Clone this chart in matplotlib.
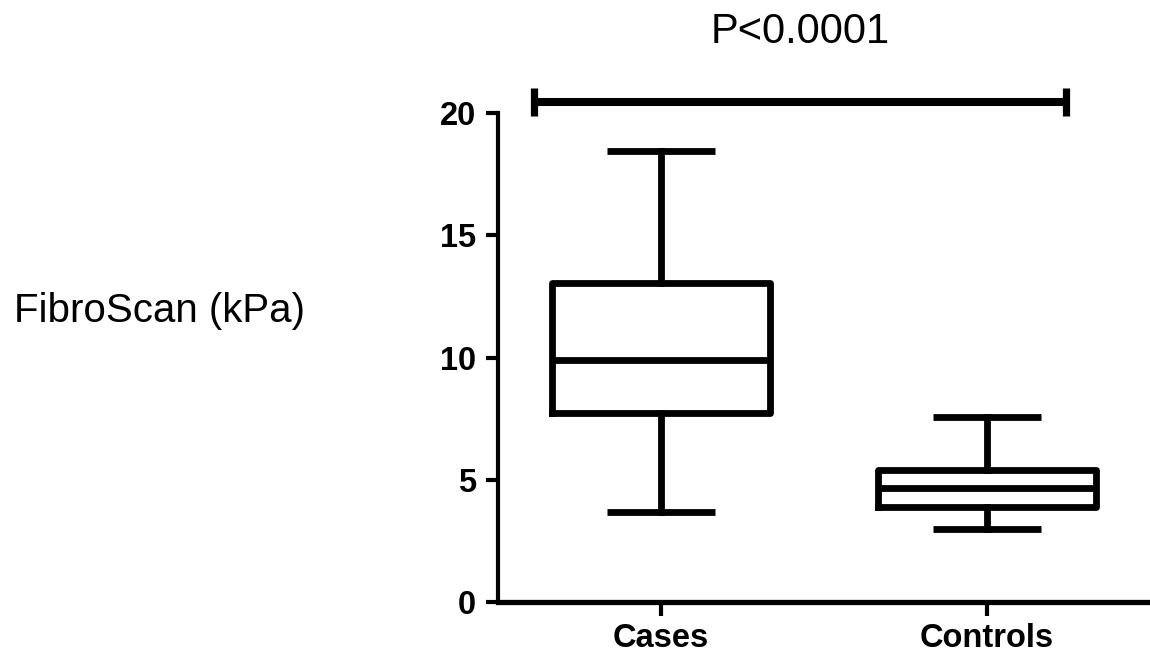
import matplotlib
matplotlib.use("Agg")
import matplotlib.pyplot as plt

plt.rcParams['font.family'] = ['Liberation Sans', 'DejaVu Sans']

# Data
categories = ["Cases", "Controls"]
whislo = [3.68, 2.99]
q1 = [7.73, 3.89]
median = [9.9, 4.66]
q3 = [13.05, 5.40]
whishi = [18.46, 7.57]
y_ticks = [0, 5, 10, 15, 20]
p_text = "P<0.0001"
sig_y = 20.45
y_label = "FibroScan (kPa)"

fig = plt.figure(figsize=(11.5, 6.57), dpi=100)
ax = fig.add_axes([498/1150, 55/657, 652/1150, 489/657])

stats = []
for i, c in enumerate(categories):
    stats.append(dict(label=c, whislo=whislo[i], q1=q1[i], med=median[i],
                      q3=q3[i], whishi=whishi[i], fliers=[]))

lw = 4.9
ax.bxp(stats, positions=[0, 1], widths=0.666, capwidths=0.334,
       showfliers=False, patch_artist=False,
       boxprops=dict(color='black', linewidth=lw, solid_joinstyle='round'),
       medianprops=dict(color='black', linewidth=lw),
       whiskerprops=dict(color='black', linewidth=lw),
       capprops=dict(color='black', linewidth=lw, solid_capstyle='butt'))

ax.set_xlim(-0.5, 1.5)
ax.set_ylim(0, 20)
ax.set_yticks(y_ticks)
ax.set_xticks([0, 1])
ax.set_xticklabels(categories)

for lab in ax.get_xticklabels() + ax.get_yticklabels():
    lab.set_fontweight('bold')
    lab.set_fontsize(23.5)

ax.spines['top'].set_visible(False)
ax.spines['right'].set_visible(False)
ax.spines['left'].set_linewidth(3.0)
ax.spines['bottom'].set_linewidth(3.8)
ax.tick_params(axis='y', length=9, width=3.0, pad=7, color='black')
ax.tick_params(axis='x', length=10, width=3.0, pad=5, color='black')

# significance bar
x0, x1 = -0.39, 1.242
ax.plot([x0, x1], [sig_y, sig_y], color='black', lw=5.8, clip_on=False,
        solid_capstyle='butt')
for xx in (x0, x1):
    ax.plot([xx, xx], [sig_y - 0.57, sig_y + 0.57], color='black', lw=5.2,
            clip_on=False, solid_capstyle='butt')
ax.text((x0 + x1) / 2, 22.86, p_text, ha='center', va='baseline',
        fontsize=30, clip_on=False)

fig.text(160/1150, 1 - 311/657, y_label, ha='center', va='center', fontsize=29)

fig.savefig("out.png", dpi=100)
